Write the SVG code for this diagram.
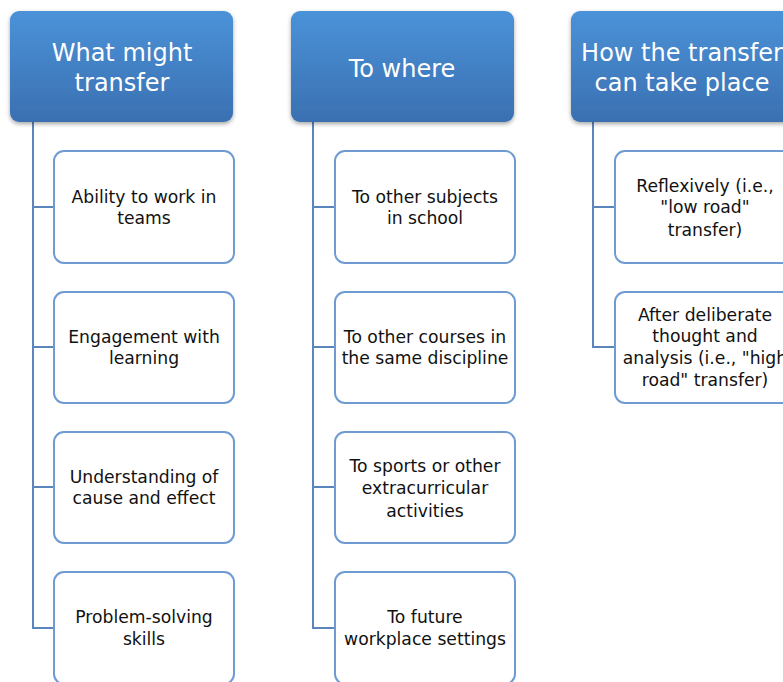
<svg xmlns="http://www.w3.org/2000/svg" width="783" height="682" viewBox="0 0 783 682">
<defs>
<linearGradient id="hg" x1="0" y1="0" x2="0" y2="1">
<stop offset="0" stop-color="#4b92d8"/>
<stop offset="1" stop-color="#3a70b1"/>
</linearGradient>
<filter id="sh" x="-10%" y="-10%" width="120%" height="130%">
<feDropShadow dx="0" dy="2" stdDeviation="2" flood-color="#000" flood-opacity="0.35"/>
</filter>
</defs>
<style>
.hd{fill:url(#hg);filter:url(#sh)}
.ht{font-family:"DejaVu Sans","Liberation Sans",Arial,sans-serif;font-size:24px;fill:#fff;text-anchor:middle}
.bx{fill:#fff;stroke:#6f9bd2;stroke-width:2}
.bt{font-family:"DejaVu Sans","Liberation Sans",Arial,sans-serif;font-size:17.2px;fill:#111;text-anchor:middle}
.cn{fill:none;stroke:#5a86bd;stroke-width:2}
</style>
<rect width="783" height="682" fill="#fff"/>
<g id="connectors">
<path class="cn" d="M33 122V628H54M33 207H54M33 347H54M33 487H54"/>
<path class="cn" d="M313 122V628H335M313 207H335M313 347H335M313 487H335"/>
<path class="cn" d="M593 122V347H615M593 207H615"/>
</g>
<g id="h1"><rect class="hd" x="10" y="11" width="223" height="111" rx="9"/><text class="ht" x="122" y="61">What might</text><text class="ht" x="122" y="91">transfer</text></g>
<g id="h2"><rect class="hd" x="291" y="11" width="223" height="111" rx="9"/><text class="ht" x="402" y="77">To where</text></g>
<g id="h3"><rect class="hd" x="571" y="11" width="223" height="111" rx="9"/><text class="ht" x="682" y="61">How the transfer</text><text class="ht" x="682" y="91">can take place</text></g>
<g id="a1"><rect class="bx" x="54" y="151" width="180" height="112" rx="10"/><text class="bt" x="144" y="203">Ability to work in</text><text class="bt" x="144" y="224">teams</text></g>
<g id="a2"><rect class="bx" x="54" y="292" width="180" height="111" rx="10"/><text class="bt" x="144" y="343">Engagement with</text><text class="bt" x="144" y="364">learning</text></g>
<g id="a3"><rect class="bx" x="54" y="432" width="180" height="111" rx="10"/><text class="bt" x="144" y="483">Understanding of</text><text class="bt" x="144" y="504">cause and effect</text></g>
<g id="a4"><rect class="bx" x="54" y="572" width="180" height="112" rx="10"/><text class="bt" x="144" y="623">Problem-solving</text><text class="bt" x="144" y="645">skills</text></g>
<g id="b1"><rect class="bx" x="335" y="151" width="180" height="112" rx="10"/><text class="bt" x="425" y="203">To other subjects</text><text class="bt" x="425" y="224">in school</text></g>
<g id="b2"><rect class="bx" x="335" y="292" width="180" height="111" rx="10"/><text class="bt" x="425" y="343">To other courses in</text><text class="bt" x="425" y="364">the same discipline</text></g>
<g id="b3"><rect class="bx" x="335" y="432" width="180" height="111" rx="10"/><text class="bt" x="425" y="472">To sports or other</text><text class="bt" x="425" y="494">extracurricular</text><text class="bt" x="425" y="517">activities</text></g>
<g id="b4"><rect class="bx" x="335" y="572" width="180" height="112" rx="10"/><text class="bt" x="425" y="623">To future</text><text class="bt" x="425" y="645">workplace settings</text></g>
<g id="c1"><rect class="bx" x="615" y="151" width="180" height="112" rx="10"/><text class="bt" x="705" y="192">Reflexively (i.e.,</text><text class="bt" x="705" y="213">"low road"</text><text class="bt" x="705" y="236">transfer)</text></g>
<g id="c2"><rect class="bx" x="615" y="292" width="180" height="111" rx="10"/><text class="bt" x="705" y="321">After deliberate</text><text class="bt" x="705" y="342">thought and</text><text class="bt" x="705" y="364">analysis (i.e., "high</text><text class="bt" x="705" y="386">road" transfer)</text></g>
</svg>
